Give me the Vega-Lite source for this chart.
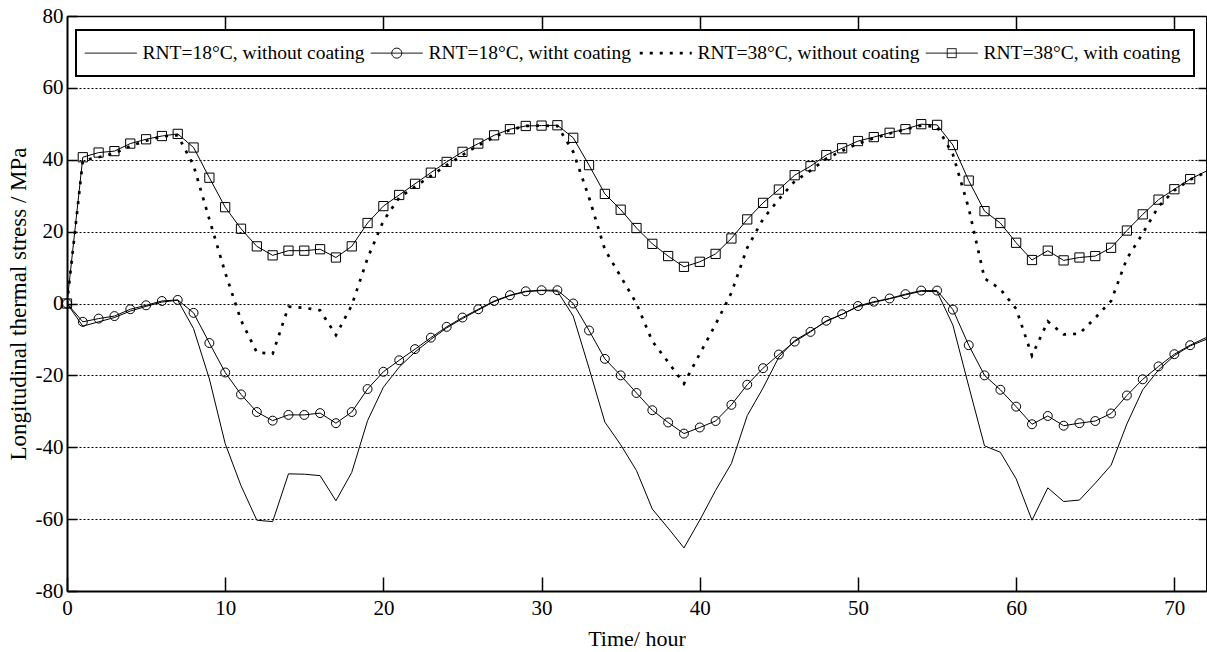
{
  "$schema": "https://vega.github.io/schema/vega-lite/v6.json",
  "width": 1139,
  "height": 575,
  "autosize": {"type": "none"},
  "padding": {"left": 67, "top": 16, "right": 1, "bottom": 61},
  "background": "white",
  "config": {
    "view": {"stroke": "black", "strokeWidth": 1},
    "font": "Liberation Serif",
    "axis": {"labelFont": "Liberation Serif", "titleFont": "Liberation Serif", "labelColor": "black", "titleColor": "black", "titleFontWeight": "normal", "domainColor": "black", "tickColor": "black"}
  },
  "data": {
    "values": [
      {"t":0,"a":0,"b":0,"c":0,"d":0},
      {"t":1,"a":-6.3,"b":-5.1,"c":39.8,"d":40.7},
      {"t":2,"a":-5.1,"b":-4.2,"c":40.7,"d":42},
      {"t":3,"a":-3.9,"b":-3.5,"c":41.8,"d":42.4},
      {"t":4,"a":-2.1,"b":-1.6,"c":43.8,"d":44.5},
      {"t":5,"a":-0.8,"b":-0.5,"c":45.3,"d":45.7},
      {"t":6,"a":0.4,"b":0.7,"c":46.5,"d":46.6},
      {"t":7,"a":0.9,"b":1.0,"c":46.8,"d":47.2},
      {"t":8,"a":-7,"b":-2.6,"c":38.4,"d":43.4},
      {"t":9,"a":-21,"b":-11,"c":23.4,"d":35},
      {"t":10,"a":-39,"b":-19.2,"c":8.6,"d":26.8},
      {"t":11,"a":-50.7,"b":-25.3,"c":-4.7,"d":20.8},
      {"t":12,"a":-60.3,"b":-30.2,"c":-13.6,"d":15.9},
      {"t":13,"a":-60.7,"b":-32.6,"c":-14,"d":13.4},
      {"t":14,"a":-47.4,"b":-31,"c":-0.9,"d":14.7},
      {"t":15,"a":-47.5,"b":-31,"c":-1.2,"d":14.7},
      {"t":16,"a":-47.9,"b":-30.5,"c":-1.9,"d":15.1},
      {"t":17,"a":-54.9,"b":-33.3,"c":-8.8,"d":12.8},
      {"t":18,"a":-47,"b":-30.2,"c":-0.5,"d":15.9},
      {"t":19,"a":-32.6,"b":-23.8,"c":12.6,"d":22.4},
      {"t":20,"a":-23.3,"b":-19,"c":23,"d":27.1},
      {"t":21,"a":-17.7,"b":-15.8,"c":29.5,"d":30.2},
      {"t":22,"a":-13.5,"b":-12.7,"c":32.5,"d":33.3},
      {"t":23,"a":-10,"b":-9.5,"c":35.5,"d":36.4},
      {"t":24,"a":-6.8,"b":-6.5,"c":38.5,"d":39.4},
      {"t":25,"a":-4.2,"b":-3.9,"c":41.3,"d":42.2},
      {"t":26,"a":-1.8,"b":-1.6,"c":44,"d":44.5},
      {"t":27,"a":0.5,"b":0.7,"c":46.3,"d":46.8},
      {"t":28,"a":2.2,"b":2.3,"c":48.3,"d":48.5},
      {"t":29,"a":3.3,"b":3.4,"c":49.4,"d":49.4},
      {"t":30,"a":3.6,"b":3.7,"c":49.5,"d":49.5},
      {"t":31,"a":3.4,"b":3.7,"c":49.4,"d":49.6},
      {"t":32,"a":-3.5,"b":0,"c":42.2,"d":46.1},
      {"t":33,"a":-18,"b":-7.5,"c":29.5,"d":38.5},
      {"t":34,"a":-33,"b":-15.4,"c":15,"d":30.5},
      {"t":35,"a":-39.3,"b":-20,"c":7.5,"d":26.1},
      {"t":36,"a":-46.5,"b":-24.9,"c":0,"d":21},
      {"t":37,"a":-57.2,"b":-29.7,"c":-10.5,"d":16.6},
      {"t":38,"a":-62.5,"b":-33.1,"c":-16.3,"d":13.2},
      {"t":39,"a":-68,"b":-36.2,"c":-22.3,"d":10.2},
      {"t":40,"a":-60.3,"b":-34.5,"c":-14,"d":11.6},
      {"t":41,"a":-52,"b":-32.7,"c":-5.8,"d":13.8},
      {"t":42,"a":-44.5,"b":-28.2,"c":3,"d":18.1},
      {"t":43,"a":-31.2,"b":-22.6,"c":15.5,"d":23.4},
      {"t":44,"a":-23.5,"b":-18,"c":23.5,"d":28},
      {"t":45,"a":-14.9,"b":-14.2,"c":29,"d":31.7},
      {"t":46,"a":-10.3,"b":-10.6,"c":34,"d":35.7},
      {"t":47,"a":-7.7,"b":-7.9,"c":37,"d":38.2},
      {"t":48,"a":-5,"b":-4.8,"c":40.3,"d":41.3},
      {"t":49,"a":-3,"b":-3,"c":42.5,"d":43.2},
      {"t":50,"a":-0.9,"b":-0.7,"c":44.5,"d":45.2},
      {"t":51,"a":0.3,"b":0.5,"c":46,"d":46.3},
      {"t":52,"a":1.3,"b":1.4,"c":47.3,"d":47.5},
      {"t":53,"a":2.4,"b":2.6,"c":48.5,"d":48.5},
      {"t":54,"a":3.4,"b":3.6,"c":49.5,"d":49.9},
      {"t":55,"a":3.3,"b":3.6,"c":49.2,"d":49.7},
      {"t":56,"a":-6,"b":-1.7,"c":41.5,"d":44.1},
      {"t":57,"a":-23,"b":-11.6,"c":26.5,"d":34.2},
      {"t":58,"a":-39.6,"b":-20,"c":7,"d":25.7},
      {"t":59,"a":-41.4,"b":-24,"c":4,"d":22.4},
      {"t":60,"a":-48.8,"b":-28.7,"c":-1.5,"d":16.9},
      {"t":61,"a":-60.3,"b":-33.6,"c":-14.5,"d":12.1},
      {"t":62,"a":-51.3,"b":-31.3,"c":-5,"d":14.7},
      {"t":63,"a":-55.1,"b":-34,"c":-8.6,"d":12},
      {"t":64,"a":-54.7,"b":-33.3,"c":-8.4,"d":12.8},
      {"t":65,"a":-50,"b":-32.7,"c":-4,"d":13.2},
      {"t":66,"a":-45,"b":-30.6,"c":0.7,"d":15.5},
      {"t":67,"a":-33.5,"b":-25.6,"c":12.5,"d":20.3},
      {"t":68,"a":-24,"b":-21.1,"c":19.5,"d":24.8},
      {"t":69,"a":-18.5,"b":-17.5,"c":27,"d":28.9},
      {"t":70,"a":-14.5,"b":-14.1,"c":31.5,"d":31.8},
      {"t":71,"a":-11.8,"b":-11.6,"c":34.5,"d":34.6},
      {"t":72,"a":-10,"b":-9.5,"c":36.5,"d":36.8}
    ]
  },
  "transform": [{"fold": ["a", "b", "c", "d"], "as": ["s", "v"]}],
  "layer": [
    {
      "transform": [{"filter": "datum.s !== 'c'"}],
      "mark": {"type": "line", "strokeWidth": 1, "clip": true},
      "encoding": {
        "x": {"field": "t", "type": "quantitative", "scale": {"domain": [0, 72], "nice": false, "zero": false},
          "axis": {"orient": "bottom", "values": [0, 10, 20, 30, 40, 50, 60, 70], "labelExpr": "'' + datum.value", "title": "Time/ hour", "titleFontSize": 22, "titlePadding": 10, "labelFontSize": 21, "labelPadding": 20, "tickSize": -14, "tickWidth": 1.5, "domainWidth": 2, "grid": false, "labelFlush": false}},
        "y": {"field": "v", "type": "quantitative", "scale": {"domain": [-80, 80], "nice": false},
          "axis": {"orient": "left", "values": [-80, -60, -40, -20, 0, 20, 40, 60, 80], "labelExpr": "'' + datum.value", "title": "Longitudinal thermal stress / MPa", "titleFontSize": 23, "titleX": -49, "titleBaseline": "middle", "labelFontSize": 21, "labelPadding": 14, "tickSize": -10, "tickWidth": 1.5, "domainWidth": 2, "grid": true, "gridColor": "black", "gridDash": [2, 2], "gridWidth": 1, "labelFlush": false}},
        "color": {"field": "s", "type": "nominal",
          "scale": {"domain": ["a", "b", "c", "d"], "range": ["black", "black", "black", "black"]},
          "legend": {
            "orient": "none", "legendX": 9, "legendY": 14, "direction": "horizontal", "columns": 4,
            "title": null, "padding": 13, "columnPadding": 3, "strokeColor": "black",
            "symbolSize": 100, "symbolOffset": 12, "labelOffset": 22,
            "labelFont": "Liberation Serif", "labelFontSize": 19.5, "labelColor": "black", "labelLimit": 400,
            "labelExpr": "datum.value === 'a' ? 'RNT=18°C, without coating' : datum.value === 'b' ? 'RNT=18°C, witht coating' : datum.value === 'c' ? 'RNT=38°C, without coating' : 'RNT=38°C, with coating'",
            "encode": {
              "legend": {"update": {"strokeWidth": {"value": 2}, "fill": {"value": "white"}}},
              "symbols": {"update": {
                "shape": {"signal": "datum.value === 'b' ? 'M-5.2,0H5.2M-1,0A1,1,0,1,1,1,0A1,1,0,1,1,-1,0' : datum.value === 'd' ? 'M-5.2,0H5.2M-0.9,-0.9H0.9V0.9H-0.9Z' : 'M-5.2,0H5.2'"},
                "strokeDash": {"signal": "datum.value === 'c' ? [3, 7] : [1, 0]"},
                "strokeWidth": {"signal": "datum.value === 'c' ? 2.7 : 1"},
                "stroke": {"value": "black"},
                "fill": {"value": "transparent"},
                "size": {"value": 100},
                "opacity": {"value": 1}
              }}
            }
          }}
      }
    },
    {
      "transform": [{"filter": "datum.s === 'c'"}],
      "mark": {"type": "line", "strokeWidth": 2.7, "strokeDash": [3, 7], "color": "black", "clip": true},
      "encoding": {
        "x": {"field": "t", "type": "quantitative", "axis": null},
        "y": {"field": "v", "type": "quantitative", "axis": null}
      }
    },
    {
      "transform": [{"filter": "datum.s === 'b' && datum.t < 72"}],
      "mark": {"type": "point", "shape": "circle", "filled": false, "size": 80, "stroke": "black", "strokeWidth": 1, "opacity": 1},
      "encoding": {
        "x": {"field": "t", "type": "quantitative", "axis": null},
        "y": {"field": "v", "type": "quantitative", "axis": null}
      }
    },
    {
      "transform": [{"filter": "datum.s === 'd' && datum.t < 72"}],
      "mark": {"type": "point", "shape": "square", "filled": false, "size": 85, "stroke": "black", "strokeWidth": 1, "opacity": 1},
      "encoding": {
        "x": {"field": "t", "type": "quantitative",
          "axis": {"orient": "top", "values": [10, 20, 30, 40, 50, 60, 70], "labels": false, "title": null, "tickSize": -14, "tickWidth": 1.5, "domainWidth": 1.5, "grid": false}},
        "y": {"field": "v", "type": "quantitative",
          "axis": {"orient": "right", "values": [-60, -40, -20, 0, 20, 40, 60], "labels": false, "title": null, "tickSize": -8, "tickWidth": 1.5, "domainWidth": 1, "grid": false}}
      }
    }
  ],
  "resolve": {"axis": {"x": "independent", "y": "independent"}}
}
